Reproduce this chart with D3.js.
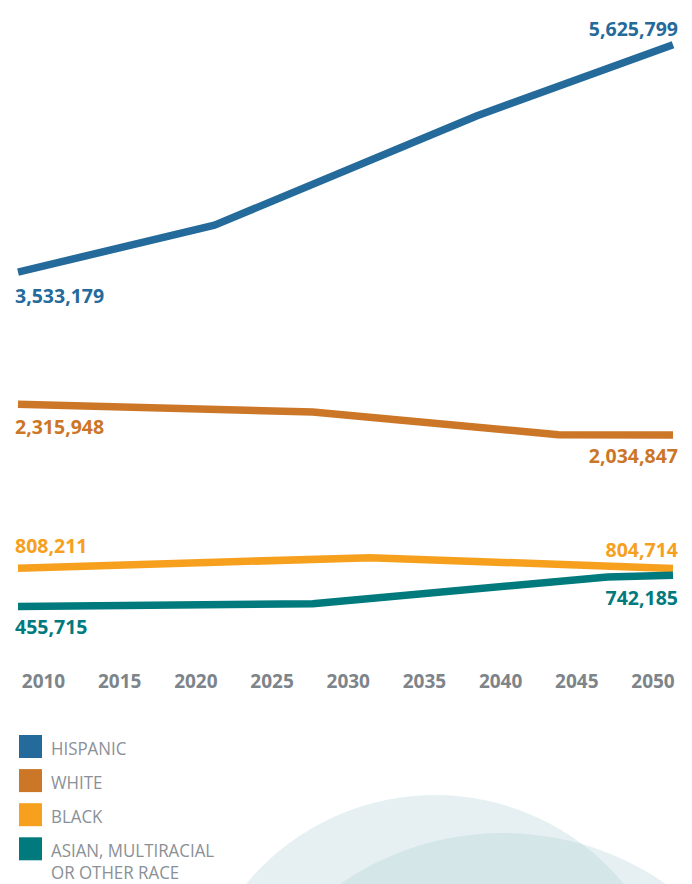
<!DOCTYPE html>
<html>
<head>
<meta charset="utf-8">
<script src="https://cdn.jsdelivr.net/npm/d3@7"></script>
<style>
  html, body { margin: 0; padding: 0; background: #fff; }
  svg { display: block; }
</style>
</head>
<body>
<div id="chart"></div>
<script>
// chart values
const tickYears = [2010, 2015, 2020, 2025, 2030, 2035, 2040, 2045, 2050];

const hispanicYears  = [2010, 2022, 2038, 2050];
const hispanicValues = [3533179, 3964000, 4970000, 5625799];

const whiteYears  = [2010, 2028, 2043, 2050];
const whiteValues = [2315948, 2246000, 2036000, 2034847];

const blackYears  = [2010, 2031.5, 2050];
const blackValues = [808211, 905000, 804714];

const asianYears  = [2010, 2028, 2046, 2050];
const asianValues = [455715, 480000, 728000, 742185];

const seriesNames  = ['HISPANIC', 'WHITE', 'BLACK', 'ASIAN, MULTIRACIAL\nOR OTHER RACE'];
const seriesColors = ['#246a9b', '#cc7628', '#f6a01e', '#007a7d'];

const width = 692;
const height = 884;

const svg = d3.select('#chart')
  .append('svg')
  .attr('width', width)
  .attr('height', height);

// decorative circles at the bottom
const blobs = [[435, 1040, 245], [503, 1119, 286]];
svg.append('g')
  .selectAll('circle')
  .data(blobs)
  .join('circle')
  .attr('cx', d => d[0])
  .attr('cy', d => d[1])
  .attr('r', d => d[2])
  .attr('fill', 'rgb(177,208,214)')
  .attr('fill-opacity', 0.32);

// scales
const x = d3.scaleLinear().domain([2010, 2050]).range([18, 673]);
const y = d3.scaleLinear().domain([0, 6000000]).range([656, 4]);
const xTick = d3.scalePoint().domain(tickYears).range([43.5, 653]);

const fmt = d3.format(',');

const series = [
  { years: hispanicYears, values: hispanicValues, startDy: 31, endDy: -9 },
  { years: whiteYears, values: whiteValues, startDy: 30, endDy: 28 },
  { years: blackYears, values: blackValues, startDy: -15, endDy: -12 },
  { years: asianYears, values: asianValues, startDy: 28, endDy: 30 }
].map((s, i) => ({
  ...s,
  color: seriesColors[i],
  points: s.years.map((yr, j) => [yr, s.values[j]])
}));

const line = d3.line()
  .x(d => x(d[0]))
  .y(d => y(d[1]));

svg.append('g')
  .selectAll('path')
  .data(series)
  .join('path')
  .attr('d', d => line(d.points))
  .attr('fill', 'none')
  .attr('stroke', d => d.color)
  .attr('stroke-width', 7.5)
  .attr('stroke-linejoin', 'miter');

// start / end value labels
const labels = svg.append('g')
  .style('font-family', '"Open Sans", sans-serif')
  .style('font-size', '19.5px')
  .style('font-weight', 700);

labels.selectAll('text.start')
  .data(series)
  .join('text')
  .attr('class', 'start')
  .attr('x', x(2010) - 3)
  .attr('y', d => y(d.values[0]) + d.startDy)
  .attr('fill', d => d.color)
  .text(d => fmt(d.values[0]));

labels.selectAll('text.end')
  .data(series)
  .join('text')
  .attr('class', 'end')
  .attr('x', x(2050) + 5)
  .attr('y', d => y(d.values[d.values.length - 1]) + d.endDy)
  .attr('text-anchor', 'end')
  .attr('fill', d => d.color)
  .text(d => fmt(d.values[d.values.length - 1]));

// year labels
svg.append('g')
  .selectAll('text')
  .data(tickYears)
  .join('text')
  .attr('x', d => xTick(d))
  .attr('y', 688)
  .attr('text-anchor', 'middle')
  .style('font-family', '"Open Sans", sans-serif')
  .style('font-size', '19px')
  .style('font-weight', 700)
  .attr('fill', '#7d848a')
  .text(d => d);

// legend
const legend = svg.append('g')
  .selectAll('g')
  .data(seriesNames)
  .join('g')
  .attr('transform', (d, i) => `translate(19,${735 + i * 34.1})`);

legend.append('rect')
  .attr('width', 23)
  .attr('height', 23)
  .attr('fill', (d, i) => seriesColors[i]);

legend.selectAll('text')
  .data(d => d.split('\n'))
  .join('text')
  .attr('transform', (d, i) => `translate(32,${20 + i * 22}) scale(0.89,1)`)
  .style('font-family', '"Open Sans", sans-serif')
  .style('font-size', '19px')
  .attr('fill', '#8a9096')
  .text(d => d);
</script>
</body>
</html>
